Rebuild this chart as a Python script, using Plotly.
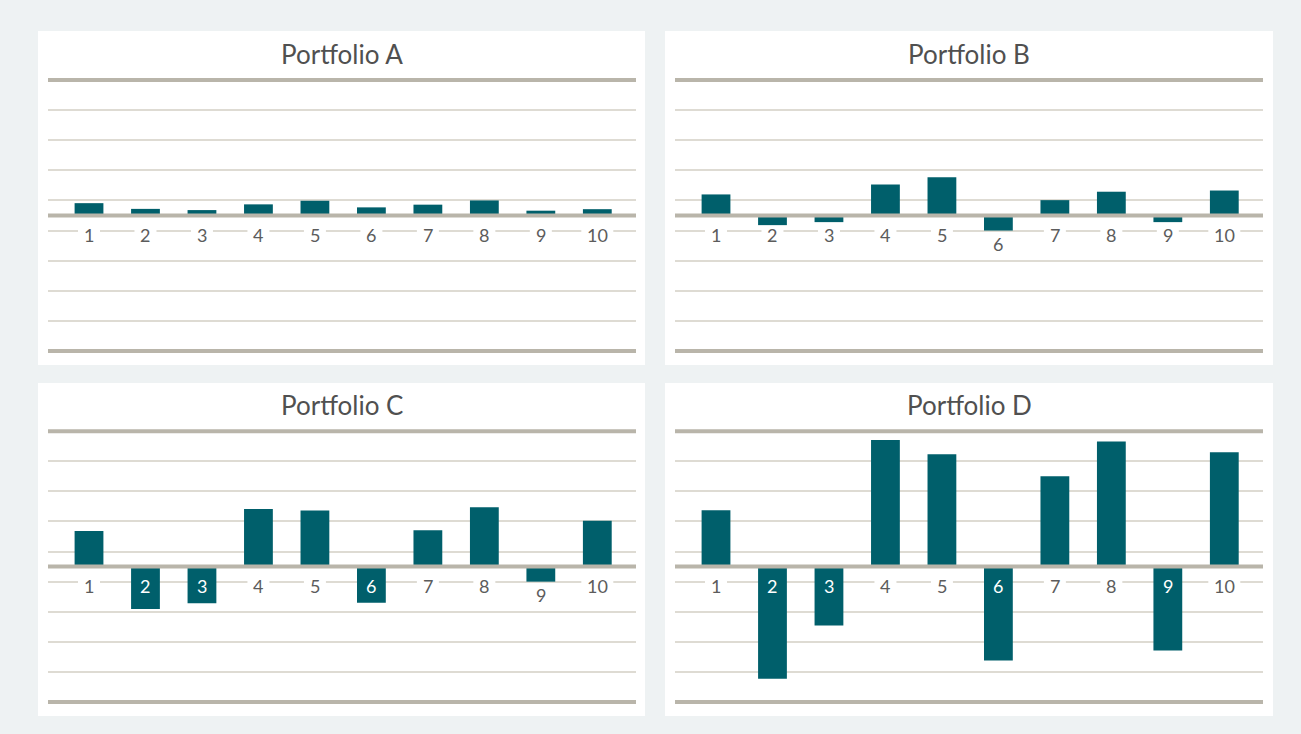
import plotly.graph_objects as go

# ---- data ----
categories = ["1", "2", "3", "4", "5", "6", "7", "8", "9", "10"]
portfolio_titles = ["Portfolio A", "Portfolio B", "Portfolio C", "Portfolio D"]
values_a = [0.41, 0.22, 0.18, 0.37, 0.49, 0.27, 0.36, 0.50, 0.16, 0.21]
values_b = [0.70, -0.32, -0.22, 1.03, 1.27, -0.50, 0.51, 0.79, -0.22, 0.83]
values_c = [1.18, -1.41, -1.22, 1.91, 1.86, -1.20, 1.21, 1.97, -0.50, 1.52]
values_d = [1.87, -3.73, -1.96, 4.21, 3.73, -3.12, 3.00, 4.16, -2.79, 3.80]
grid_vals = [-3.5, -2.5, -1.5, -0.5, 0.5, 1.5, 2.5, 3.5]
limit = 4.5

series = [values_a, values_b, values_c, values_d]

# ---- style / layout ----
W, H = 1301, 734
BG = "#eef2f3"
BAR = "#005f6b"
THIN = "#dedbd3"
THICK = "#b9b5aa"
TXT = "#505050"
LBL = "#5c5c5c"
FONT = "Lato"

# card boxes in pixels (x0, x1, y0, y1) and plot line extents
cards = [(38, 645, 31, 365), (665, 1273, 31, 365), (38, 645, 383, 716), (665, 1273, 383, 716)]
plot_x = [(48, 636), (675, 1263), (48, 636), (675, 1263)]
zero_px = [215.5, 215.5, 566.6, 566.6]
px_per_unit = 30.1
yr = 4.6
title_y = [54, 54, 405, 405]

xr = [0.274, 10.685]

fig = go.Figure()
shapes = []
annotations = []

for i, vals in enumerate(series):
    n = i + 1
    xa = "x" if n == 1 else f"x{n}"
    ya = "y" if n == 1 else f"y{n}"
    xpos = list(range(1, len(categories) + 1))
    fig.add_trace(go.Bar(
        x=xpos, y=vals, xaxis=xa, yaxis=ya,
        marker=dict(color=BAR, line=dict(width=0)),
        width=0.51, hoverinfo="skip", showlegend=False,
    ))
    x0p, x1p = plot_x[i]
    top_px = zero_px[i] - yr * px_per_unit
    bot_px = zero_px[i] + yr * px_per_unit
    xkey = "xaxis" if n == 1 else f"xaxis{n}"
    ykey = "yaxis" if n == 1 else f"yaxis{n}"
    fig.update_layout(**{
        xkey: dict(domain=[x0p / W, x1p / W], range=xr, anchor=ya,
                   showgrid=False, zeroline=False, showticklabels=False,
                   showline=False, ticks="", fixedrange=True),
        ykey: dict(domain=[1 - bot_px / H, 1 - top_px / H], range=[-yr, yr], anchor=xa,
                   tickvals=grid_vals, showgrid=True, gridcolor=THIN, gridwidth=2,
                   zeroline=False, showticklabels=False, showline=False, ticks="",
                   fixedrange=True),
    })
    # card background
    cx0, cx1, cy0, cy1 = cards[i]
    shapes.append(dict(type="rect", xref="paper", yref="paper",
                       x0=cx0 / W, x1=cx1 / W, y0=1 - cy1 / H, y1=1 - cy0 / H,
                       fillcolor="white", line=dict(width=0), layer="below"))
    # thick lines: zero and limits
    for yv in (limit, 0, -limit):
        shapes.append(dict(type="line", xref=f"{xa} domain", yref=ya,
                           x0=0, x1=1, y0=yv, y1=yv,
                           line=dict(color=THICK, width=4), layer="above"))
    # title
    annotations.append(dict(text=portfolio_titles[i], xref="paper", yref="paper",
                            x=(cx0 + cx1) / 2 / W, y=1 - title_y[i] / H,
                            xanchor="center", yanchor="middle", showarrow=False,
                            font=dict(family=FONT, size=26, color=TXT)))
    # category labels
    for xv, cat, v in zip(xpos, categories, vals):
        if v < -0.9:
            annotations.append(dict(text=cat, xref=xa, yref=ya, x=xv, y=-0.5,
                                    yshift=-4, showarrow=False,
                                    font=dict(family=FONT, size=18, color="white")))
        elif v <= -0.4:
            annotations.append(dict(text=cat, xref=xa, yref=ya, x=xv, y=v,
                                    yanchor="top", yshift=0, showarrow=False,
                                    font=dict(family=FONT, size=18, color=LBL)))
        else:
            w = 12 + 10 * len(cat)
            shapes.append(dict(type="rect", xref=xa, yref=ya,
                               xsizemode="pixel", xanchor=xv, x0=-w / 2, x1=w / 2,
                               ysizemode="pixel", yanchor=-0.5, y0=-3, y1=3,
                               fillcolor="white", line=dict(width=0), layer="between"))
            annotations.append(dict(text=cat, xref=xa, yref=ya, x=xv, y=-0.5,
                                    yshift=-4, showarrow=False,
                                    font=dict(family=FONT, size=18, color=LBL)))

fig.update_layout(
    width=W, height=H, margin=dict(l=0, r=0, t=0, b=0),
    paper_bgcolor=BG, plot_bgcolor="rgba(0,0,0,0)",
    shapes=shapes, annotations=annotations, bargap=0.49,
    font=dict(family=FONT),
)

fig.write_html(
    "out.html",
    config={"displayModeBar": False},
    post_script="document.body.style.margin='0';document.body.style.background='" + BG + "';",
)
